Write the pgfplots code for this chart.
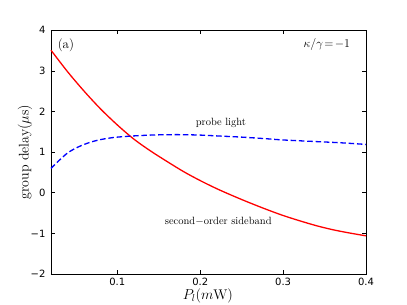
\documentclass[border=0pt]{standalone}
\usepackage{fontspec}
\usepackage{pgfplots}
\pgfplotsset{compat=1.18}
\newfontfamily\dejavu{DejaVu Sans}
\begin{document}
\begin{tikzpicture}
\path[use as bounding box] (-51pt,-31pt) rectangle (356pt,274pt);
\begin{axis}[
  scale only axis,
  width=315pt, height=243.7pt,
  anchor=south west, at={(0pt,0pt)},
  xmin=0.02, xmax=0.4, ymin=-2, ymax=4,
  xtick={0.1,0.2,0.3,0.4},
  xticklabels={0.1,0.2,0.3,0.4},
  ytick={-2,-1,0,1,2,3,4},
  yticklabels={−2,−1,0,1,2,3,4},
  tick align=inside,
  major tick length=4pt,
  minor tick num=0,
  tick style={black, line width=0.6pt},
  axis line style={line width=0.8pt},
  ticklabel style={font=\dejavu\fontsize{10}{12}\selectfont},
  xticklabel style={yshift=-1pt},
  yticklabel style={xshift=-2pt},
  clip=false,
  xlabel={$P_l(m\mathrm{W})$},
  ylabel={group delay$(\mu$s$)$},
  label style={font=\fontsize{14}{16}\selectfont},
  xlabel style={at={(axis description cs:0.498,-0.088)}, anchor=center},
  ylabel style={at={(axis description cs:-0.0825,0.5)}, anchor=center},
]
\addplot[red, line width=1.3pt, smooth] coordinates {
(0.02,3.51) (0.04,2.98) (0.06,2.50) (0.08,2.06) (0.10,1.67) (0.12,1.32)
(0.14,1.03) (0.16,0.77) (0.18,0.52) (0.20,0.30) (0.22,0.10) (0.24,-0.08)
(0.26,-0.25) (0.28,-0.41) (0.30,-0.56) (0.32,-0.69) (0.34,-0.81)
(0.36,-0.91) (0.38,-0.99) (0.40,-1.06)};
\addplot[blue, line width=1.3pt, smooth, dash pattern=on 5.5pt off 2.8pt] coordinates {
(0.02,0.60) (0.03,0.80) (0.04,0.98) (0.05,1.10) (0.06,1.19) (0.07,1.26)
(0.08,1.31) (0.09,1.345) (0.10,1.37) (0.12,1.40) (0.14,1.42) (0.16,1.43)
(0.18,1.43) (0.20,1.42) (0.22,1.40) (0.25,1.37) (0.28,1.33) (0.30,1.30)
(0.34,1.26) (0.37,1.23) (0.40,1.19)};
\node[font=\fontsize{13}{15}\selectfont] at (axis cs:0.038,3.64) {(a)};
\node[font=\fontsize{12.5}{14}\selectfont, anchor=east] at (axis cs:0.385,3.64) {$\kappa/\gamma\!=\!-1$};
\node[font=\fontsize{10.5}{12}\selectfont] at (axis cs:0.225,1.72) {probe light};
\node[font=\fontsize{10.5}{12}\selectfont] at (axis cs:0.2218,-0.71) {second$-$order sideband};
\end{axis}
\end{tikzpicture}
\end{document}
